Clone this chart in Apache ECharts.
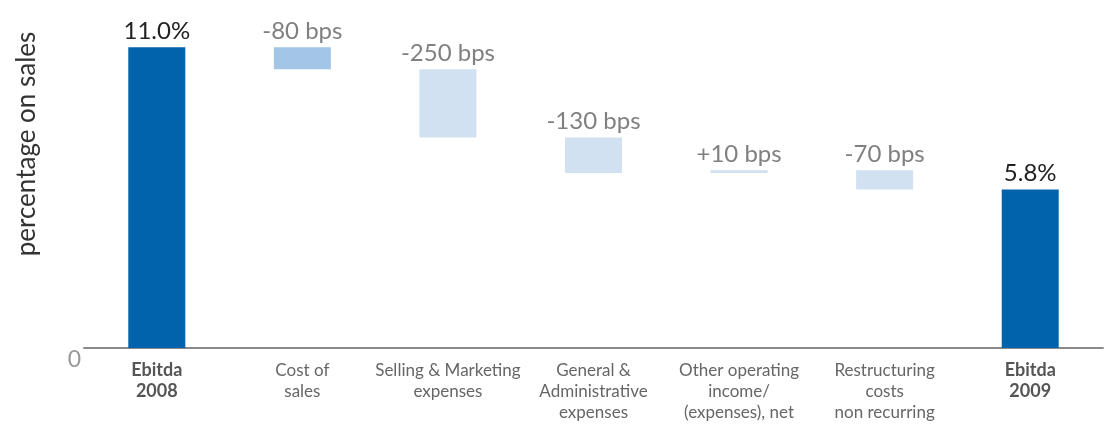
<!DOCTYPE html>
<html><head><meta charset="utf-8">
<script src="https://cdn.jsdelivr.net/npm/echarts@6/dist/echarts.min.js"></script>
<style>html,body{margin:0;padding:0;background:#fff}#c{width:1109px;height:426px}</style>
</head><body><div id="c"></div>
<script>
const categories = ['Ebitda\n2008','Cost of\nsales','Selling & Marketing\nexpenses','General &\nAdministrative\nexpenses','Other operating\nincome/\n(expenses), net','Restructuring\ncosts\nnon recurring','Ebitda\n2009'];
const startValue = 11.0;
const deltas = [-0.8, -2.5, -1.3, 0.1, -0.7];
const endValue = 5.8;
const yName = 'percentage on sales';

const base = [], heights = [], labels = [], kinds = [];
base.push(0); heights.push(startValue); labels.push(startValue.toFixed(1) + '%'); kinds.push('total');
let run = startValue;
deltas.forEach(d => {
  const next = +(run + d).toFixed(4);
  base.push(Math.min(run, next));
  heights.push(Math.abs(d));
  const bps = Math.round(d * 100);
  labels.push((bps > 0 ? '+' : '') + bps + ' bps');
  kinds.push('delta');
  run = next;
});
base.push(0); heights.push(endValue); labels.push(endValue.toFixed(1) + '%'); kinds.push('total');

const FONT = 'Lato';
const chart = echarts.init(document.getElementById('c'));
chart.setOption({
  animation: false,
  textStyle: { fontFamily: FONT },
  grid: { left: 84, right: 6, top: 20, bottom: 78, containLabel: false, outerBoundsMode: 'none' },
  xAxis: {
    type: 'category', data: categories,
    axisLine: { show: true, lineStyle: { color: '#8a8a8a', width: 2 } },
    axisTick: { show: false },
    axisLabel: {
      interval: 0, margin: 12, color: '#666', fontSize: 17, lineHeight: 21, fontFamily: FONT,
      formatter: v => v.startsWith('Ebitda') ? '{b|' + v.split('\n').join('}\n{b|') + '}' : v,
      rich: { b: { fontWeight: 'bold', color: '#555', fontSize: 18, lineHeight: 21, fontFamily: FONT } }
    }
  },
  yAxis: {
    type: 'value', min: 0, max: 12, interval: 12,
    name: yName, nameLocation: 'middle', nameGap: 44, nameRotate: 90,
    nameTextStyle: { color: '#333', fontSize: 26, fontFamily: FONT, padding: [0, 0, 0, 80] },
    axisLine: { show: false }, axisTick: { show: false }, splitLine: { show: false },
    axisLabel: { color: '#999', fontSize: 23, margin: 3, verticalAlign: 'top', formatter: v => v === 0 ? '0' : '' }
  },
  series: [
    { type: 'bar', stack: 'w', data: base, itemStyle: { color: 'transparent' }, silent: true, barWidth: 57 },
    {
      type: 'bar', stack: 'w', barWidth: 57,
      data: heights.map((h, i) => ({
        value: h,
        itemStyle: { color: kinds[i] === 'total' ? '#0063AB' : (i === 1 ? '#A3C5E6' : '#D1E1F1') },
        label: { color: kinds[i] === 'total' ? '#222' : '#808080' }
      })),
      label: { show: true, position: 'top', distance: 4, fontSize: 24, fontFamily: FONT, formatter: p => labels[p.dataIndex] }
    }
  ]
});
</script></body></html>
